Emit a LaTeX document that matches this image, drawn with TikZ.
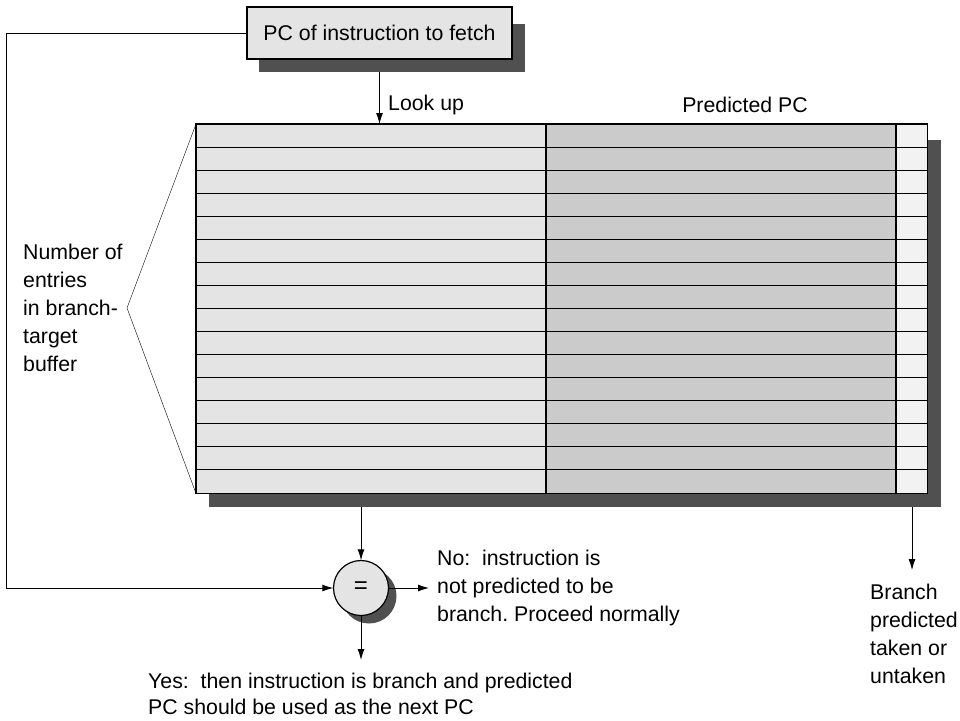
\documentclass[tikz,border=0pt]{standalone}
\usepackage{fontspec}
\setmainfont{Liberation Sans}
\usetikzlibrary{arrows.meta,positioning}

\definecolor{shadowgray}{HTML}{505050}
\definecolor{tagcell}{HTML}{E4E4E4}
\definecolor{pccell}{HTML}{CBCBCB}
\definecolor{bitcell}{HTML}{F2F2F2}
\frenchspacing

\begin{document}
\begin{tikzpicture}[x=1pt,y=-1pt,
  font=\fontsize{21.3}{28}\selectfont,
  link/.style={-{Latex[length=11pt,width=7pt]}, line width=0.9pt},
  label/.style={inner sep=0, align=left}]
  \useasboundingbox (0,0) rectangle (960,720);

  % fetch box
  \node[draw, fill=tagcell, line width=1.2pt, minimum width=265pt,
        minimum height=52pt, inner sep=0] (fetch) at (379.5,33) {};
  \node[inner sep=0, minimum width=731pt, minimum height=369pt,
        anchor=north west] (btb) at (196,124) {};
  \draw[link] (fetch.south) -- (fetch.south |- btb.north);
  \fill[shadowgray] (259,24) rectangle (525,72);
  \node[draw, fill=tagcell, line width=1.2pt, minimum width=265pt,
        minimum height=52pt, inner sep=0] at (fetch) {PC of instruction to fetch};
  \node[label, anchor=west] (lookup) at (388,105) {Look up};
  \node[label] (predpc) at (745,105) {Predicted PC};

  % branch-target buffer
  \coordinate (cmpin) at (361,493);
  \coordinate (bitout) at (912,493);
  \coordinate (takenin) at (912,570);
  \node[circle, minimum size=55pt, inner sep=0] (cmp) at (361,588) {};
  \draw[link] (cmpin) -- (cmp.north);
  \draw[link] (bitout) -- (takenin);
  \fill[shadowgray] (209,140) rectangle (941,507);
  \fill[tagcell] (btb.north west) rectangle (546,493);
  \fill[pccell] (546,124) rectangle (896,493);
  \fill[bitcell] (896,124) rectangle (btb.south east);
  \foreach \i in {1,...,15}
    \draw[line width=1.1pt] (196,124+\i*23.0625) -- (927,124+\i*23.0625);
  \draw[line width=1.1pt] (546,124) -- (546,493);
  \draw[line width=1.1pt] (896,124) -- (896,493);
  \draw[line width=1.4pt] (btb.north west) rectangle (btb.south east);

  % entries brace
  \coordinate (apex) at (127,308);
  \draw (btb.north west) -- (apex) -- (btb.south west);
  \node[label, anchor=west] (entries) at (23,308)
    {Number of\\entries\\in branch-\\target\\buffer};

  % compare
  \coordinate (loop) at (6,588);
  \coordinate (yesin) at (361,660);
  \fill[shadowgray] (369,596) circle (27.5pt);
  \node[draw, circle, fill=tagcell, line width=1.2pt, minimum size=55pt,
        inner sep=0, font=\fontsize{24}{28}\selectfont] at (cmp) {=};
  \draw[link] (fetch.west) -| (loop) -- (cmp.west);
  \node[label, anchor=west] (no) at (437,588)
    {No:\ \ instruction is\\not predicted to be\\branch. Proceed normally};
  \draw[link] (cmp.east) -- ([xshift=-8pt]no.west);
  \draw[link] (cmp.south) -- (yesin);
  \node[label, anchor=north west, font=\fontsize{21.3}{26}\selectfont] (yes) at (148,673)
    {Yes:\ \ then instruction is branch and predicted\\PC should be used as the next PC};
  \node[label, anchor=north west] (taken) at (870,584)
    {Branch\\predicted\\taken or\\untaken};
\end{tikzpicture}
\end{document}
